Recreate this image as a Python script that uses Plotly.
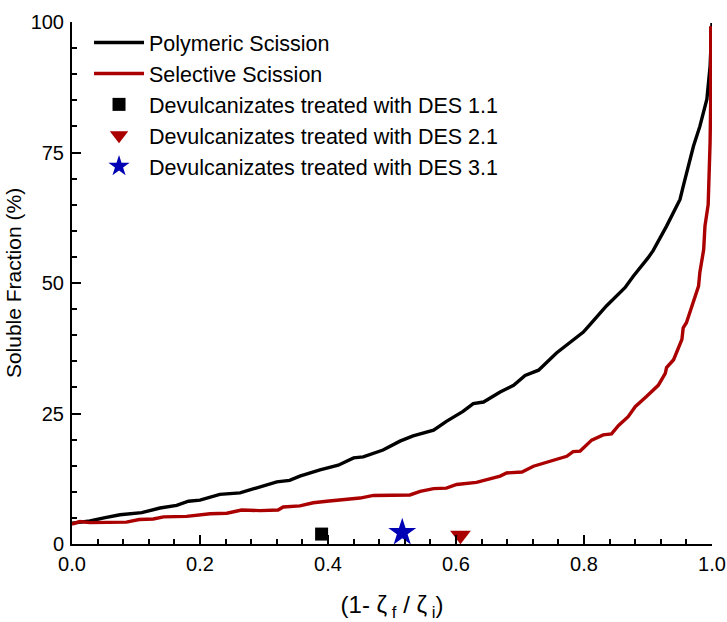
import plotly.graph_objects as go

# Polymeric scission curve
poly_x = [0.0, 0.028, 0.05, 0.075, 0.109, 0.1375, 0.1635, 0.182, 0.2, 0.231, 0.2625, 0.294,
          0.32, 0.34, 0.356, 0.3875, 0.416, 0.44, 0.455, 0.486, 0.5125, 0.533, 0.565, 0.585,
          0.611, 0.627, 0.643, 0.669, 0.69, 0.708, 0.729, 0.757, 0.78, 0.799, 0.809, 0.835,
          0.864, 0.877, 0.9, 0.908, 0.929, 0.934, 0.95, 0.955, 0.971, 0.981, 0.992, 0.997, 1.0]
poly_y = [4.0, 4.4, 5.0, 5.6, 6.0, 6.9, 7.4, 8.2, 8.4, 9.5, 9.8, 11.0,
          11.9, 12.2, 13.0, 14.2, 15.1, 16.5, 16.7, 18.0, 19.7, 20.7, 21.8, 23.5,
          25.4, 26.9, 27.2, 29.1, 30.4, 32.3, 33.3, 36.6, 38.8, 40.6, 42.0, 45.6,
          49.1, 51.3, 54.8, 56.2, 60.9, 62.2, 66.0, 68.5, 76.2, 80.0, 85.2, 91.5, 99.8]

# Selective scission curve
sel_x = [0.0, 0.0125, 0.028, 0.085, 0.105, 0.127, 0.143, 0.179, 0.216, 0.242, 0.265, 0.294,
         0.322, 0.33, 0.356, 0.377, 0.398, 0.45, 0.471, 0.528, 0.544, 0.565, 0.585, 0.601,
         0.632, 0.669, 0.679, 0.703, 0.721, 0.752, 0.773, 0.783, 0.794, 0.812, 0.83, 0.843,
         0.854, 0.869, 0.88, 0.898, 0.916, 0.927, 0.929, 0.94, 0.953, 0.955, 0.96, 0.966,
         0.973, 0.979, 0.981, 0.987, 0.989, 0.992, 0.994, 0.997, 0.998, 0.998]
sel_y = [3.8, 4.3, 4.1, 4.2, 4.7, 4.8, 5.2, 5.3, 5.8, 5.9, 6.5, 6.4,
         6.5, 7.1, 7.3, 7.9, 8.2, 8.8, 9.3, 9.4, 10.1, 10.6, 10.7, 11.4,
         11.8, 13.0, 13.6, 13.8, 14.9, 16.1, 16.8, 17.7, 17.8, 19.9, 20.9, 21.1,
         22.7, 24.4, 26.3, 28.3, 30.4, 32.7, 33.8, 35.3, 39.2, 41.4, 42.4, 44.6,
         47.3, 49.4, 52.0, 56.4, 60.9, 63.4, 65.0, 76.9, 85.2, 99.2]

# Experimental points
des1_x = [0.39]
des1_y = [1.9]
des2_x = [0.607]
des2_y = [1.7]
des3_x = [0.516]
des3_y = [2.2]

FONT = "Arial, Liberation Sans, sans-serif"
RED = "#AA0000"
BLUE = "#0000B4"

fig = go.Figure()
fig.add_trace(go.Scatter(x=poly_x, y=poly_y, mode="lines", name="Polymeric Scission",
                         line=dict(color="black", width=3.4)))
fig.add_trace(go.Scatter(x=sel_x, y=sel_y, mode="lines", name="Selective Scission",
                         line=dict(color=RED, width=3.4)))
fig.add_trace(go.Scatter(x=des1_x, y=des1_y, mode="markers", name="Devulcanizates treated with DES 1.1",
                         marker=dict(symbol="square", size=13, color="black"), cliponaxis=False))
fig.add_trace(go.Scatter(x=des2_x, y=des2_y, mode="markers", name="Devulcanizates treated with DES 2.1",
                         marker=dict(symbol="triangle-down", size=18, color=RED), cliponaxis=False))
fig.add_trace(go.Scatter(x=des3_x, y=des3_y, mode="markers", name="Devulcanizates treated with DES 3.1",
                         marker=dict(symbol="star", size=21, color=BLUE), cliponaxis=False))

axis_common = dict(showgrid=False, zeroline=False, showline=True, linecolor="black", linewidth=2,
                   ticks="inside", tickcolor="black", tickwidth=1.5, ticklen=9, automargin=False,
                   tickfont=dict(family=FONT, size=20, color="black"), mirror=False)

fig.update_xaxes(range=[0, 1], dtick=0.2, tick0=0, tickformat=".1f",
                 minor=dict(dtick=0.04, ticks="inside", ticklen=5, tickcolor="black", tickwidth=1.5),
                 title=dict(text="(1- ζ<sub> f</sub> / ζ<sub> i</sub>)",
                            font=dict(family=FONT, size=24, color="black"), standoff=22),
                 ticklabelstandoff=1,
                 **axis_common)
fig.update_yaxes(range=[0, 100], dtick=25, tick0=0,
                 minor=dict(dtick=5, ticks="inside", ticklen=5, tickcolor="black", tickwidth=1.5),
                 title=dict(text="Soluble Fraction (%)", font=dict(family=FONT, size=21, color="black"),
                            standoff=3),
                 ticklabelstandoff=2,
                 **axis_common)

fig.update_layout(
    width=727, height=622,
    margin=dict(l=72, r=15, t=22, b=78),
    plot_bgcolor="white", paper_bgcolor="white",
    font=dict(family=FONT, color="black"),
    legend=dict(x=0.0266, y=1.0, xanchor="left", yanchor="top",
                font=dict(family=FONT, size=21.5, color="black"),
                bgcolor="rgba(0,0,0,0)", itemwidth=50, tracegroupgap=0),
)

fig.write_html("out.html", config={"displayModeBar": False},
               post_script="document.body.style.margin='0';document.body.style.overflow='hidden';")
